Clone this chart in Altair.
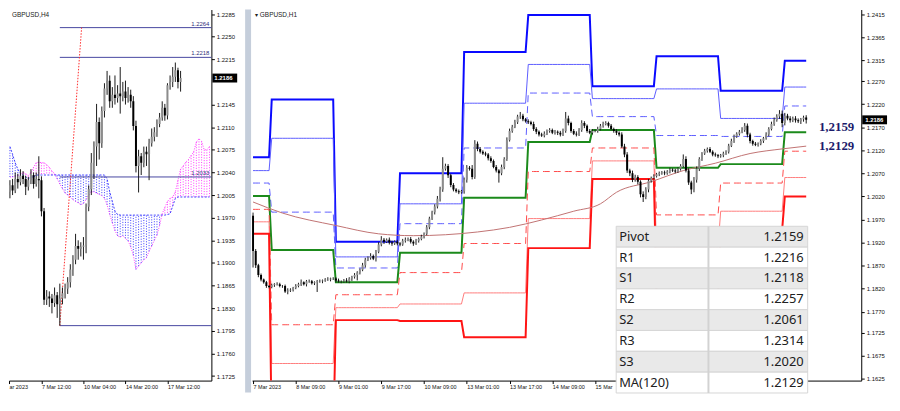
import bisect
import json
import altair as alt
import pandas as pd

# ============================ H4 panel (left) ============================
h4_first_index = -12
h4_first_open = 1.2010
h4_close = [1.2020, 1.2012, 1.2030, 1.2025, 1.2035, 1.2030, 1.2018, 1.2028, 1.2036, 1.2022, 1.2030, 1.2028,
            1.1980, 1.1843, 1.1848, 1.1845, 1.1838, 1.1850, 1.1836, 1.1845, 1.1853, 1.1860, 1.1870, 1.1890,
            1.1905, 1.1926, 1.1922, 1.1925, 1.1927, 1.1987, 1.2014, 1.2055, 1.2080, 1.2118, 1.2085, 1.2135,
            1.2170, 1.2182, 1.2150, 1.2160, 1.2155, 1.2162, 1.2158, 1.2165, 1.2155, 1.2160, 1.2150, 1.2112,
            1.2050, 1.2065, 1.2055, 1.2072, 1.2068, 1.2085, 1.2095, 1.2102, 1.2115, 1.2125, 1.2140, 1.2128,
            1.2175, 1.2180, 1.2188, 1.2198, 1.2180, 1.2186]
h4_high = [1.2028, 1.2030, 1.2040, 1.2038, 1.2045, 1.2042, 1.2035, 1.2033, 1.2045, 1.2040, 1.2040, 1.2065,
           1.2034, 1.1985, 1.1858, 1.1856, 1.1852, 1.1862, 1.1855, 1.1868, 1.1862, 1.1868, 1.1878, 1.1898,
           1.1912, 1.1945, 1.1935, 1.1932, 1.1940, 1.1992, 1.2020, 1.2070, 1.2088, 1.2146, 1.2125, 1.2142,
           1.2178, 1.2197, 1.2190, 1.2172, 1.2190, 1.2175, 1.2203, 1.2180, 1.2182, 1.2172, 1.2168, 1.2158,
           1.2120, 1.2075, 1.2070, 1.2080, 1.2080, 1.2092, 1.2108, 1.2110, 1.2122, 1.2132, 1.2150, 1.2146,
           1.2178, 1.2190, 1.2203, 1.2210, 1.2202, 1.2197]
h4_low = [1.2000, 1.2005, 1.2008, 1.2015, 1.2020, 1.2022, 1.2005, 1.2012, 1.2022, 1.2015, 1.2018, 1.2000,
          1.1972, 1.1835, 1.1835, 1.1832, 1.1822, 1.1832, 1.1815, 1.1803, 1.1836, 1.1845, 1.1852, 1.1862,
          1.1880, 1.1898, 1.1905, 1.1910, 1.1905, 1.1915, 1.1980, 1.2005, 1.2030, 1.2050, 1.2060, 1.2078,
          1.2125, 1.2160, 1.2140, 1.2140, 1.2145, 1.2148, 1.2131, 1.2150, 1.2145, 1.2148, 1.2140, 1.2105,
          1.2040, 1.2009, 1.2036, 1.2048, 1.2050, 1.2028, 1.2080, 1.2088, 1.2095, 1.2110, 1.2120, 1.2120,
          1.2122, 1.2168, 1.2172, 1.2180, 1.2170, 1.2165]

cloud_first_index = -12
span_a = [1.2033, 1.2033, 1.2034, 1.2035, 1.2036, 1.2040, 1.2038, 1.2035, 1.2040, 1.2048, 1.2055, 1.2056,
          1.2055, 1.2055, 1.2052, 1.2048, 1.2042, 1.2038, 1.2030, 1.2022, 1.2015, 1.2008, 1.2005, 1.2002,
          1.1998, 1.1995, 1.1993, 1.1990, 1.1992, 1.1998, 1.2005, 1.2010, 1.2010, 1.2008, 1.2006, 1.2004,
          1.2000, 1.1990, 1.1975, 1.1962, 1.1950, 1.1942, 1.1940, 1.1942, 1.1938, 1.1934, 1.1925, 1.1912,
          1.1890, 1.1895, 1.1900, 1.1905, 1.1908, 1.1918, 1.1926, 1.1935, 1.1943, 1.1958, 1.1976, 1.1986,
          1.1995, 1.2000, 1.2002, 1.2010, 1.2028, 1.2045, 1.2050, 1.2056, 1.2060, 1.2066, 1.2072, 1.2087,
          1.2092, 1.2088, 1.2075, 1.2075, 1.2080]
span_b = [1.2080, 1.2068, 1.2055, 1.2045, 1.2038, 1.2036, 1.2033, 1.2030, 1.2033, 1.2033, 1.2036, 1.2036,
          1.2036, 1.2036, 1.2036, 1.2036, 1.2036, 1.2036, 1.2036, 1.2036, 1.2036, 1.2036, 1.2036, 1.2036,
          1.2036, 1.2036, 1.2036, 1.2036, 1.2036, 1.2036, 1.2036, 1.2036, 1.2036, 1.2036, 1.2036, 1.2036,
          1.2036, 1.2030, 1.2010, 1.1995, 1.1980, 1.1975, 1.1974, 1.1974, 1.1974, 1.1974, 1.1974, 1.1974,
          1.1974, 1.1974, 1.1974, 1.1974, 1.1974, 1.1974, 1.1974, 1.1974, 1.1974, 1.1974, 1.1974, 1.1974,
          1.1975, 1.1976, 1.1988, 1.2000, 1.2002, 1.2002, 1.2002, 1.2002, 1.2002, 1.2002, 1.2002, 1.2002,
          1.2002, 1.2002, 1.2002, 1.2002, 1.2002]

h4_levels = [1.2264, 1.2218, 1.2033, 1.1803]
h4_level_text = ["1.2264", "1.2218", "1.2033", ""]
h4_level_from = [7, 7, 7, 7]
proj_index = [7, 15.3]
proj_price = [1.1803, 1.2264]
h4_last_price = [1.2186]

h4_x_ticks = [-12.36, 0, 16, 32, 48]
h4_x_labels = ["ar 2023", "7 Mar 12:00", "10 Mar 04:00", "14 Mar 20:00", "17 Mar 12:00"]
h4_y_ticks = [1.2285, 1.2250, 1.2215, 1.2145, 1.2110, 1.2075, 1.2040, 1.2005, 1.1970, 1.1935,
              1.1900, 1.1865, 1.1830, 1.1795, 1.1760, 1.1725]

# ============================ H1 panel (right) ============================
h1_first_open = 1.1978
h1_close = [1.1902, 1.1871, 1.1850, 1.1840, 1.1834, 1.1826, 1.1824,
            1.1828, 1.1830, 1.1830, 1.1826, 1.1826, 1.1814, 1.1816, 1.1818, 1.1822, 1.1826, 1.1830, 1.1834,
            1.1830, 1.1836, 1.1836, 1.1832, 1.1834, 1.1836, 1.1836, 1.1838, 1.1840, 1.1840, 1.1842, 1.1842,
            1.1838, 1.1836, 1.1836, 1.1838, 1.1836, 1.1842, 1.1846, 1.1850, 1.1855, 1.1861, 1.1871, 1.1883,
            1.1887, 1.1891, 1.1885, 1.1900, 1.1916, 1.1926, 1.1922, 1.1926, 1.1920, 1.1918, 1.1922, 1.1918,
            1.1916, 1.1924, 1.1926, 1.1928, 1.1922, 1.1918, 1.1924, 1.1928, 1.1933, 1.1939, 1.1953, 1.1972,
            1.1986, 1.1998, 1.2015, 1.2035, 1.2080, 1.2086, 1.2066, 1.2045, 1.2035, 1.2031, 1.2029, 1.2031,
            1.2056, 1.2082, 1.2080, 1.2062, 1.2134, 1.2123, 1.2117, 1.2113, 1.2111, 1.2103, 1.2097, 1.2084,
            1.2076, 1.2070, 1.2084, 1.2101, 1.2142, 1.2162, 1.2171, 1.2181, 1.2193, 1.2195, 1.2187, 1.2183,
            1.2181, 1.2177, 1.2166, 1.2160, 1.2154, 1.2152, 1.2156, 1.2162, 1.2164, 1.2158, 1.2160, 1.2158,
            1.2154, 1.2162, 1.2189, 1.2179, 1.2162, 1.2156, 1.2154, 1.2164, 1.2179, 1.2173, 1.2162, 1.2158,
            1.2162, 1.2162, 1.2166, 1.2173, 1.2177, 1.2179, 1.2173, 1.2166, 1.2162, 1.2158, 1.2154, 1.2128,
            1.2111, 1.2076, 1.2070, 1.2056, 1.2062, 1.2052, 1.2025, 1.2019, 1.2035, 1.2054, 1.2060, 1.2064,
            1.2068, 1.2070, 1.2072, 1.2070, 1.2074, 1.2078, 1.2076, 1.2074, 1.2080, 1.2086, 1.2101, 1.2076,
            1.2050, 1.2035, 1.2056, 1.2080, 1.2101, 1.2113, 1.2119, 1.2123, 1.2117, 1.2111, 1.2109, 1.2107,
            1.2109, 1.2113, 1.2117, 1.2130, 1.2140, 1.2150, 1.2156, 1.2160, 1.2164, 1.2173, 1.2154, 1.2140,
            1.2134, 1.2132, 1.2134, 1.2140, 1.2146, 1.2154, 1.2166, 1.2177, 1.2185, 1.2193, 1.2199, 1.2179,
            1.2195, 1.2189, 1.2185, 1.2189, 1.2185, 1.2183, 1.2187, 1.2191, 1.2186]
h1_upper_wick = [7, 4, 3, 3, 2, 3, 2,
                 3, 2, 4, 3, 2, 3, 5, 3, 2, 4, 3, 6, 2, 3, 4, 3, 2, 3, 4, 2, 3, 5, 2, 3,
                 3, 4, 2, 3, 5, 3, 2, 4, 3, 3, 5, 4, 3, 6, 3, 4, 5, 8, 4, 3, 5, 4, 3, 4,
                 3, 4, 5, 3, 4, 3, 4, 3, 4, 3, 5, 4, 3, 5, 6, 6, 25, 5, 4, 3, 4, 3, 4, 3,
                 5, 6, 4, 8, 8, 5, 4, 3, 4, 3, 4, 3, 4, 3, 5, 4, 6, 5, 4, 5, 4, 8, 4, 3,
                 4, 3, 5, 4, 3, 4, 5, 3, 4, 3, 4, 3, 4, 5, 14, 6, 3, 4, 5, 4, 6, 4, 3, 4,
                 4, 3, 5, 4, 5, 4, 3, 4, 3, 4, 3, 5, 6, 5, 4, 6, 5, 4, 3, 6, 5, 4, 3, 4,
                 3, 4, 3, 4, 3, 4, 3, 4, 3, 4, 10, 6, 5, 4, 6, 5, 4, 3, 4, 3, 4, 3, 4, 3,
                 3, 4, 3, 4, 5, 4, 3, 4, 6, 6, 5, 4, 3, 4, 3, 4, 3, 5, 4, 5, 6, 5, 8, 7,
                 6, 4, 5, 4, 5, 4, 3, 4, 5]
h1_lower_wick = [36, 6, 5, 4, 3, 4, 3,
                 3, 4, 3, 3, 4, 3, 6, 3, 4, 3, 3, 4, 3, 5, 3, 3, 4, 21, 3, 4, 3, 3, 4, 3,
                 4, 3, 4, 3, 3, 4, 5, 4, 12, 4, 3, 5, 3, 4, 3, 6, 3, 4, 5, 3, 4, 5, 3, 4,
                 4, 3, 4, 3, 4, 5, 3, 4, 3, 4, 3, 4, 3, 5, 4, 6, 5, 4, 6, 5, 4, 3, 4, 3,
                 5, 6, 4, 5, 4, 5, 4, 3, 4, 5, 4, 3, 4, 20, 4, 5, 4, 3, 4, 3, 4, 5, 4, 3,
                 4, 3, 4, 5, 4, 3, 4, 3, 4, 3, 4, 5, 4, 3, 4, 5, 4, 3, 4, 3, 4, 5, 4, 3,
                 4, 3, 4, 3, 4, 3, 4, 3, 4, 5, 4, 3, 6, 5, 6, 5, 4, 6, 7, 11, 5, 6, 4, 3,
                 3, 4, 3, 4, 3, 4, 3, 4, 3, 4, 3, 4, 5, 10, 6, 6, 5, 4, 3, 4, 3, 4, 3, 4,
                 3, 4, 3, 4, 3, 4, 3, 4, 3, 4, 6, 5, 4, 3, 4, 3, 4, 3, 4, 3, 4, 3, 5, 9,
                 5, 4, 5, 4, 5, 4, 6, 5, 8]

day_start = [0, 7, 31, 55, 79, 103, 127, 151, 175, 199]
pivot_R3 = [1.2105, 1.2230, 1.1922, 1.2070, 1.2333, 1.2413, 1.2259, 1.2324, 1.2249, 1.2314]
pivot_R2 = [1.2076, 1.2146, 1.1889, 1.2004, 1.2222, 1.2306, 1.2232, 1.2253, 1.2189, 1.2257]
pivot_R1 = [1.2049, 1.1986, 1.1865, 1.1961, 1.2125, 1.2244, 1.2193, 1.2152, 1.2150, 1.2216]
pivot_P = [1.2021, 1.1904, 1.1834, 1.1898, 1.2017, 1.2138, 1.2164, 1.2082, 1.2090, 1.2159]
pivot_S1 = [1.1992, 1.1742, 1.1807, 1.1855, 1.1918, 1.2074, 1.2125, 1.1980, 1.2049, 1.2118]
pivot_S2 = [1.1965, 1.1658, 1.1779, 1.1787, 1.1811, 1.1972, 1.2097, 1.1910, 1.1988, 1.2061]
pivot_S3 = [1.1939, 1.1498, 1.1752, 1.1750, 1.1715, 1.1908, 1.2058, 1.1808, 1.1948, 1.2020]

ma_index = [0, 11, 31, 47, 60, 72, 84, 96, 108, 120, 130, 136, 149, 161, 173, 186, 198, 207]
ma_value = [1.2008, 1.1984, 1.1957, 1.1939, 1.1935, 1.1937, 1.1943, 1.1953, 1.1969, 1.1988,
            1.2004, 1.2029, 1.2052, 1.2076, 1.2092, 1.2113, 1.2123, 1.2129]

h1_x_ticks = [0, 16, 32, 48, 64, 80, 96, 112, 128]
h1_x_labels = ["7 Mar 2023", "8 Mar 09:00", "9 Mar 01:00", "9 Mar 17:00", "10 Mar 09:00",
               "13 Mar 01:00", "13 Mar 17:00", "14 Mar 09:00", "15 Mar"]
h1_y_ticks = [1.2415, 1.2365, 1.2315, 1.2270, 1.2220, 1.2170, 1.2120, 1.2070, 1.2020, 1.1970,
              1.1920, 1.1870, 1.1820, 1.1770, 1.1725, 1.1675, 1.1625]
h1_last_price = [1.2186]
big_label_price = [1.2159, 1.2129]
big_label_text = ["1,2159", "1,2129"]

table_names = ["Pivot", "R1", "S1", "R2", "S2", "R3", "S3", "MA(120)"]
table_values = ["1.2159", "1.2216", "1.2118", "1.2257", "1.2061", "1.2314", "1.2020", "1.2129"]

# ============================ layout / style ============================
FONT = "Liberation Sans"
WL, WR, H = 204, 614, 374
YEXT = 26
XL_DOM = [-12.36, 64.73]
YL_DOM = [1.1718, 1.2292]
XR_DOM = [-0.36, 227.6]
YR_DOM = [1.1621, 1.2425]


def label_expr(vals, labels):
    parts = [f"abs(datum.value - ({v})) < 0.01 ? {json.dumps(l)}" for v, l in zip(vals, labels)]
    return " : ".join(parts) + " : ''"


def x_axis(vals, labels):
    return alt.Axis(values=vals, labelExpr=label_expr(vals, labels), orient="bottom", tickSize=3,
                    labelFontSize=5.5, labelFont=FONT, labelColor="#111", labelAlign="left",
                    labelBaseline="top", labelPadding=1, labelFlush=False, labelOverlap=False,
                    domainColor="#000", tickColor="#000", grid=False, title=None,
                    minExtent=12, maxExtent=12)


def y_axis(vals):
    return alt.Axis(values=vals, format=".4f", orient="right", tickSize=3, labelFontSize=6,
                    labelFont=FONT, labelColor="#111", labelPadding=2, labelFlush=False,
                    labelOverlap=False, domainColor="#000", tickColor="#000", grid=False, title=None,
                    minExtent=YEXT, maxExtent=YEXT)


XA_L = x_axis(h4_x_ticks, h4_x_labels)
YA_L = y_axis(h4_y_ticks)
XA_R = x_axis(h1_x_ticks, h1_x_labels)
YA_R = y_axis(h1_y_ticks)

xsL = alt.Scale(domain=XL_DOM, nice=False, zero=False)
ysL = alt.Scale(domain=YL_DOM, nice=False, zero=False)
xsR = alt.Scale(domain=XR_DOM, nice=False, zero=False)
ysR = alt.Scale(domain=YR_DOM, nice=False, zero=False)


def XL(f):
    return alt.X(f, type="quantitative", scale=xsL, axis=XA_L)


def YL(f):
    return alt.Y(f, type="quantitative", scale=ysL, axis=YA_L)


def XR(f):
    return alt.X(f, type="quantitative", scale=xsR, axis=XA_R)


def YR(f):
    return alt.Y(f, type="quantitative", scale=ysR, axis=YA_R)


def candles(df, X, Y):
    wick = alt.Chart(df).mark_rule(color="#1a1a1a", strokeWidth=1, clip=True).encode(
        x=X("i"), y=Y("low"), y2="high")
    body = alt.Chart(df).mark_rule(strokeWidth=2, clip=True).encode(
        x=X("i"), y=Y("open"), y2="close",
        color=alt.condition("datum.close >= datum.open", alt.value("#8c8c8c"), alt.value("#000000")))
    return [wick, body]


one = pd.DataFrame({"a": [0]})

# ----------------------------- left panel -----------------------------
h4 = pd.DataFrame({"i": list(range(h4_first_index, h4_first_index + len(h4_close))),
                   "close": h4_close, "high": h4_high, "low": h4_low})
h4["open"] = [h4_first_open] + h4_close[:-1]

cloud = pd.DataFrame({"i": list(range(cloud_first_index, cloud_first_index + len(span_a))),
                      "a": span_a, "b": span_b})

cloud_rules = alt.Chart(cloud).mark_rule(strokeWidth=1, strokeDash=[1, 1.6], clip=True).encode(
    x=XL("i"), y=YL("a"), y2="b",
    color=alt.condition("datum.a > datum.b", alt.value("#ff3cff"), alt.value("#3c3cff")))
span_a_line = alt.Chart(cloud).mark_line(color="#ff3cff", strokeWidth=1, strokeDash=[1, 1.5], clip=True).encode(
    x=XL("i"), y=YL("a"))
span_b_line = alt.Chart(cloud).mark_line(color="#3c3cff", strokeWidth=1, strokeDash=[2, 1.5], clip=True).encode(
    x=XL("i"), y=YL("b"))

lev = pd.DataFrame({"price": h4_levels, "text": h4_level_text, "from": h4_level_from})
lev_rules = alt.Chart(lev).mark_rule(color="#4646a0", strokeWidth=1).encode(
    x=XL("from"), x2=alt.value(WL), y=YL("price"))
lev_text = alt.Chart(lev).mark_text(align="right", baseline="bottom", dy=-1, fontSize=6, font=FONT,
                                    color="#30307a").encode(
    x=alt.value(WL - 2), y=YL("price"), text="text:N")

proj = pd.DataFrame({"i": proj_index, "p": proj_price})
proj_line = alt.Chart(proj).mark_line(color="#ff2a2a", strokeWidth=1, strokeDash=[1.5, 1.5]).encode(
    x=XL("i"), y=YL("p"))

lp_left = pd.DataFrame({"p": h4_last_price})
box_left = alt.Chart(lp_left).mark_rule(color="#000", strokeWidth=9).encode(
    x=alt.value(WL + 1), x2=alt.value(WL + YEXT), y=YL("p"))
box_left_t = alt.Chart(lp_left).mark_text(align="left", baseline="middle", fontSize=6, font=FONT,
                                          color="#fff", fontWeight="bold").encode(
    x=alt.value(WL + 3), y=YL("p"), text=alt.Text("p:Q", format=".4f"))
title_left = alt.Chart(one).mark_text(align="left", baseline="middle", fontSize=6.5, font=FONT,
                                      color="#222").encode(
    x=alt.value(3), y=alt.value(6), text=alt.value("GBPUSD,H4"))

left = alt.layer(cloud_rules, span_a_line, span_b_line, lev_rules, lev_text, proj_line,
                 *candles(h4, XL, YL), box_left, box_left_t, title_left).properties(width=WL, height=H)

# ----------------------------- right panel -----------------------------
opens = [h1_first_open] + h1_close[:-1]
h1 = pd.DataFrame({"i": list(range(len(h1_close))), "open": opens, "close": h1_close})
h1["high"] = [round(max(o, c) + u / 10000, 5) for o, c, u in zip(opens, h1_close, h1_upper_wick)]
h1["low"] = [round(min(o, c) - d / 10000, 5) for o, c, d in zip(opens, h1_close, h1_lower_wick)]

levels = {"R3": pivot_R3, "R2": pivot_R2, "R1": pivot_R1, "P": pivot_P,
          "S1": pivot_S1, "S2": pivot_S2, "S3": pivot_S3}
rows = []
for j in range(len(h1_close)):
    seg = bisect.bisect_right(day_start, j) - 1
    for name, vals in levels.items():
        rows.append({"i": j, "level": name, "v": vals[seg]})
piv = pd.DataFrame(rows)

styles = {"R3": ("#0a0aff", 2, None), "R2": ("#5c5cff", 1, None), "R1": ("#5c5cff", 1, [7, 4]),
          "P": ("#1b8a1b", 2, None), "S1": ("#ff4a4a", 1, [7, 4]), "S2": ("#ff7c7c", 1, None),
          "S3": ("#ff1414", 2, None)}

separator = alt.Chart(one).mark_rect(color="#c5cedb", clip=False).encode(
    x=alt.value(-7), x2=alt.value(-1), y=alt.value(0), y2=alt.value(H + 12))

piv_layers = []
for name, (col, w, dash) in styles.items():
    kw = dict(color=col, strokeWidth=w, clip=True)
    if dash:
        kw["strokeDash"] = dash
    piv_layers.append(
        alt.Chart(piv).transform_filter(alt.datum.level == name).mark_line(**kw).encode(
            x=XR("i"), y=YR("v")))

ma = pd.DataFrame({"i": ma_index, "v": ma_value})
ma_line = alt.Chart(ma).mark_line(color="#c07272", strokeWidth=1, interpolate="monotone", clip=True).encode(
    x=XR("i"), y=YR("v"))

bl = pd.DataFrame({"p": big_label_price, "t": big_label_text})
big1 = alt.Chart(bl.iloc[[0]]).mark_text(align="right", baseline="middle", dy=-5, fontSize=13,
                                         font="Liberation Serif", fontWeight="bold", color="#1c1c6c").encode(
    x=alt.value(607), y=YR("p"), text="t:N")
big2 = alt.Chart(bl.iloc[[1]]).mark_text(align="right", baseline="middle", fontSize=13,
                                         font="Liberation Serif", fontWeight="bold", color="#1c1c6c").encode(
    x=alt.value(607), y=YR("p"), text="t:N")

T_TOP, T_RH, T_X0, T_X1, T_XD = 218.5, 21.0, 367, 560, 460
tbl = pd.DataFrame({"row": list(range(len(table_names))), "name": table_names, "val": table_values})
tcalc = dict(ty=f"{T_TOP} + datum.row * {T_RH}", ty2=f"{T_TOP} + (datum.row + 1) * {T_RH}",
             tyc=f"{T_TOP} + (datum.row + 0.5) * {T_RH}")
tbl_rect = alt.Chart(tbl).transform_calculate(**tcalc).mark_rect(stroke="#d6d6d6", strokeWidth=1,
                                                                 clip=False).encode(
    x=alt.value(T_X0), x2=alt.value(T_X1), y=alt.Y("ty:Q", scale=None), y2="ty2:Q",
    fill=alt.condition("datum.row % 2 == 0", alt.value("#e9e9e9"), alt.value("#ffffff")))
tbl_div = alt.Chart(one).mark_rule(color="#d2d2d2", strokeWidth=2).encode(
    x=alt.value(T_XD), y=alt.value(T_TOP), y2=alt.value(T_TOP + T_RH * len(table_names)))
tbl_name = alt.Chart(tbl).transform_calculate(**tcalc).mark_text(
    align="left", baseline="middle", fontSize=13, font="Noto Sans", color="#202020").encode(
    x=alt.value(T_X0 + 3), y=alt.Y("tyc:Q", scale=None), text="name:N")
tbl_val = alt.Chart(tbl).transform_calculate(**tcalc).mark_text(
    align="right", baseline="middle", fontSize=13, font="Noto Sans", color="#202020").encode(
    x=alt.value(T_X1 - 4), y=alt.Y("tyc:Q", scale=None), text="val:N")

lp_right = pd.DataFrame({"p": h1_last_price})
box_right = alt.Chart(lp_right).mark_rule(color="#000", strokeWidth=9).encode(
    x=alt.value(WR + 1), x2=alt.value(WR + YEXT), y=YR("p"))
box_right_t = alt.Chart(lp_right).mark_text(align="left", baseline="middle", fontSize=6, font=FONT,
                                            color="#fff", fontWeight="bold").encode(
    x=alt.value(WR + 4), y=YR("p"), text=alt.Text("p:Q", format=".4f"))
title_right = alt.Chart(one).mark_text(align="left", baseline="middle", fontSize=6.5, font=FONT,
                                       color="#222").encode(
    x=alt.value(3), y=alt.value(6), text=alt.value("▾ GBPUSD,H1"))

right = alt.layer(separator, *piv_layers, ma_line, *candles(h1, XR, YR), big1, big2,
                  tbl_rect, tbl_div, tbl_name, tbl_val, box_right, box_right_t,
                  title_right).properties(width=WR, height=H)

chart = alt.hconcat(left, right, spacing=3).properties(
    padding={"left": 0, "top": 0, "right": 0, "bottom": 0}, background="#ffffff"
).configure_view(stroke=None)

chart.save("out.html", embed_options={"renderer": "svg", "actions": False})
